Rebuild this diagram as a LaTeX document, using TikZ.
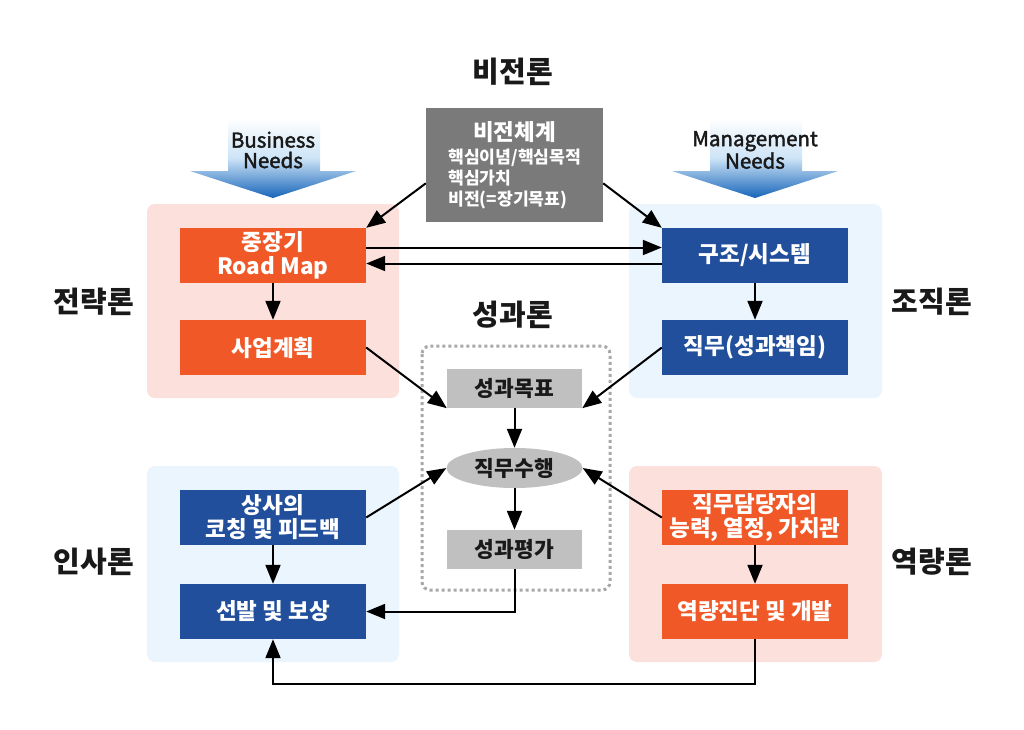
\documentclass[tikz,border=0pt]{standalone}
\usepackage{fontspec}
\setmainfont{Noto Sans CJK KR}
\newfontfamily\needfont[FakeBold=2]{Noto Sans CJK KR}
\usetikzlibrary{arrows.meta,shapes.geometric,calc}
\definecolor{orng}{RGB}{241,88,40}
\definecolor{dblue}{RGB}{33,79,156}
\definecolor{pinkbg}{RGB}{252,224,219}
\definecolor{bluebg}{RGB}{235,245,254}
\definecolor{visgray}{RGB}{122,122,122}
\definecolor{lgray}{RGB}{192,192,192}
\definecolor{dotgray}{RGB}{168,168,168}
\definecolor{needblue}{RGB}{22,100,185}
\definecolor{needlight}{RGB}{205,228,247}
\definecolor{txtdark}{RGB}{25,25,25}
\begin{document}
\begin{tikzpicture}[x=1pt,y=-1pt,
  panel/.style={rounded corners=8pt, draw=none},
  obox/.style={fill=orng, text=white, minimum width=186pt, minimum height=55pt, inner sep=0pt, align=center, font=\fontsize{22.5}{24}\selectfont\bfseries},
  bbox/.style={fill=dblue, text=white, minimum width=186pt, minimum height=55pt, inner sep=0pt, align=center, font=\fontsize{22.5}{24}\selectfont\bfseries},
  gbox/.style={fill=lgray, text=txtdark, minimum width=135pt, minimum height=39pt, inner sep=0pt, font=\fontsize{21.5}{23}\selectfont\bfseries},
  heading/.style={text=txtdark, font=\fontsize{29}{31}\selectfont\bfseries},
  needtxt/.style={text=txtdark, align=center, font=\needfont\fontsize{20.5}{20.5}\selectfont},
  arr/.style={line width=2pt, -{Triangle[length=19pt,width=15pt]}},
  needarrow/.style={draw=none, top color=white, bottom color=needblue, middle color=needlight}
]
\useasboundingbox (0,0) rectangle (1024,729);
\fill[white] (0,0) rectangle (1024,729);

% panels
\fill[pinkbg, panel] (147,204) rectangle (399,398);
\fill[bluebg, panel] (629,204) rectangle (882,398);
\fill[bluebg, panel] (147,466) rectangle (399,662);
\fill[pinkbg, panel] (629,466) rectangle (882,662);

% needs arrows
\shade[needarrow] (228,118) -- (320,118) -- (320,171) -- (356,171) -- (273,198) -- (190,171) -- (228,171) -- cycle;
\shade[needarrow] (710,118) -- (802,118) -- (802,171) -- (838,171) -- (755,198) -- (672,171) -- (710,171) -- cycle;
\node[needtxt] (bneeds) at (273,150) {Business\\Needs};
\node[needtxt] (mneeds) at (755,150) {Management\\Needs};

% headings
\node[heading] (hvision) at (513,72) {비전론};
\node[heading] (hstrat) at (94,302) {전략론};
\node[heading] (horg) at (932,302) {조직론};
\node[heading] (hperf) at (513,315) {성과론};
\node[heading] (hhr) at (94,562) {인사론};
\node[heading] (hcomp) at (932,562) {역량론};

% vision box
\node[fill=visgray, minimum width=177pt, minimum height=114pt, inner sep=0pt] (vision) at (514.5,165) {};
\node[text=white, font=\fontsize{22.5}{24}\selectfont\bfseries] (vtitle) at (514.5,132) {비전체계};
\node[text=white, anchor=north west, align=left, inner sep=0pt, font=\fontsize{17.2}{21}\selectfont\bfseries] (vlines) at (448,149) {핵심이념/핵심목적\\핵심가치\\비전(=장기목표)};

% boxes
\node[obox] (roadmap) at (273,255.5) {중장기\\Road Map};
\node[obox] (saup) at (273,347.5) {사업계획};
\node[bbox] (gujo) at (755,255.5) {구조/시스템};
\node[bbox] (jikmu) at (755,347.5) {직무(성과책임)};
\node[bbox] (coach) at (273,517.5) {상사의\\코칭 및 피드백};
\node[bbox] (seonbal) at (273,611.5) {선발 및 보상};
\node[obox] (damdang) at (755,517.5) {직무담당자의\\능력, 열정, 가치관};
\node[obox] (yeok) at (755,611.5) {역량진단 및 개발};

% performance group
\draw[dotgray, line width=3pt, dash pattern=on 3pt off 3pt, rounded corners=8pt] (422,346) rectangle (610,590);
\node[gbox] (goal) at (514.5,388.5) {성과목표};
\node[ellipse, fill=lgray, text=txtdark, minimum width=136pt, minimum height=40pt, inner sep=0pt, font=\fontsize{21.5}{23}\selectfont\bfseries] (perform) at (514.5,468) {직무수행};
\node[gbox] (eval) at (514.5,549.5) {성과평가};

% connectors
\draw[arr] ($(vision.south west)!0.34!(vision.north west)$) -- (roadmap.north east);
\draw[arr] ($(vision.south east)!0.34!(vision.north east)$) -- (gujo.north west);
\draw[arr] ([yshift=8pt]roadmap.east) -- ([yshift=8pt]gujo.west);
\draw[arr] ([yshift=-8pt]gujo.west) -- ([yshift=-8pt]roadmap.east);
\draw[arr] (roadmap.south) -- (saup.north);
\draw[arr] (gujo.south) -- (jikmu.north);
\draw[arr] (saup.east) -- (goal.south west);
\draw[arr] (jikmu.west) -- (goal.south east);
\draw[arr] (goal.south) -- (perform.north);
\draw[arr] (perform.south) -- (eval.north);
\draw[arr] (coach.east) -- (perform.west);
\draw[arr] (damdang.west) -- (perform.east);
\draw[arr] (coach.south) -- (seonbal.north);
\draw[arr] (damdang.south) -- (yeok.north);
\draw[arr] (eval.south) |- (seonbal.east);
\draw[arr] (yeok.south) -- ++(0,45) -| (seonbal.south);
\end{tikzpicture}
\end{document}
